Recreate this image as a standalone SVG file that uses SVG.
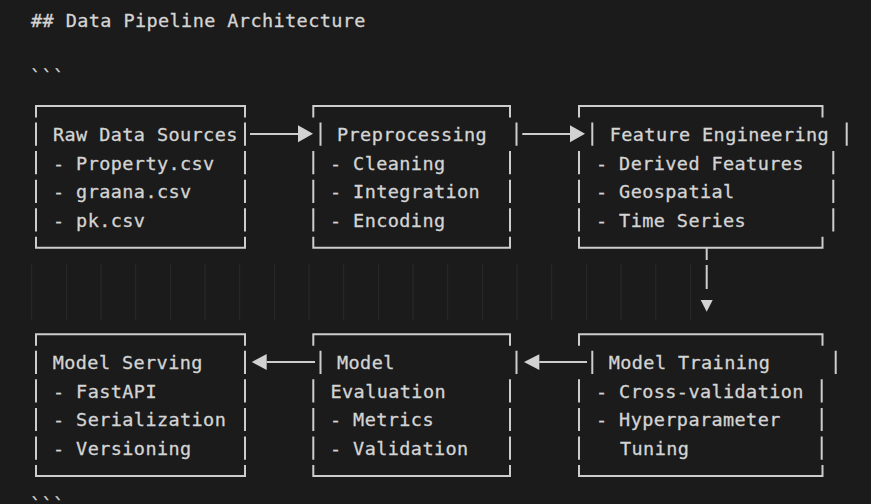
<svg xmlns="http://www.w3.org/2000/svg" width="871" height="504" viewBox="0 0 871 504">
<style>
.t{font-family:"DejaVu Sans Mono","Liberation Mono",monospace;font-size:18.5px;letter-spacing:0.41px;fill:#d4d4d4;stroke:#d4d4d4;stroke-width:0.3px;white-space:pre}
.b{fill:none;stroke:#cdcdcd;stroke-width:2;stroke-linecap:butt}
.c{fill:none;stroke:#cdcdcd;stroke-width:2}
.h{fill:#d2d2d2;stroke:none}
.g{fill:none;stroke:#2a2a2a;stroke-width:1}
</style>
<rect width="871" height="504" fill="#1b1b1b"/>
<text class="t" x="31" y="26.8">## Data Pipeline Architecture</text>
<text class="t" x="30" y="83">```</text>
<path class="g" d="M31.7,263.3V320M66.4,263.3V320M101,263.3V320M135.7,263.3V320M170.4,263.3V320M205,263.3V320M239.7,263.3V320M274.4,263.3V320M309.1,263.3V320M343.7,263.3V320M378.4,263.3V320M413.1,263.3V320M447.7,263.3V320M482.4,263.3V320M517.1,263.3V320M551.7,263.3V320M586.4,263.3V320M621.1,263.3V320M655.8,263.3V320M690.4,263.3V320"/>
<g id="raw-data-sources">
<path class="b" d="M36,117.5V106H245V117.5M36,236.7V247.7H245V236.7M36,122.5V145.7M245,122.5V145.7M36,151.1V174.3M245,151.1V174.3M36,179.7V202.9M245,179.7V202.9M36,208.3V231.5M245,208.3V231.5"/>
<text class="t" x="53" y="141">Raw Data Sources</text>
<text class="t" x="53" y="169.6">- Property.csv</text>
<text class="t" x="53" y="198.2">- graana.csv</text>
<text class="t" x="53" y="226.8">- pk.csv</text>
</g>
<g id="preprocessing">
<path class="b" d="M313.3,117.5V106H510V117.5M313.3,236.7V247.7H510V236.7M320.5,122.5V145.7M516.5,122.5V145.7M313.3,151.1V174.3M510,151.1V174.3M313.3,179.7V202.9M510,179.7V202.9M313.3,208.3V231.5M510,208.3V231.5"/>
<text class="t" x="337" y="141">Preprocessing</text>
<text class="t" x="330" y="169.6">- Cleaning</text>
<text class="t" x="330" y="198.2">- Integration</text>
<text class="t" x="330" y="226.8">- Encoding</text>
</g>
<g id="feature-engineering">
<path class="b" d="M579,117.5V106H822.5V117.5M579,236.7V247.7H822.5V236.7M592.3,122.5V145.7M846.7,122.5V145.7M579,151.1V174.3M833.3,151.1V174.3M579,179.7V202.9M833.3,179.7V202.9M579,208.3V231.5M833.3,208.3V231.5"/>
<text class="t" x="609.7" y="141">Feature Engineering</text>
<text class="t" x="596" y="169.6">- Derived Features</text>
<text class="t" x="596" y="198.2">- Geospatial</text>
<text class="t" x="596" y="226.8">- Time Series</text>
</g>
<g id="model-training">
<path class="b" d="M579,345.7V334.2H822.5V345.7M579,464.9V475.9H822.5V464.9M592.3,350.7V373.9M835.7,350.7V373.9M579,379.3V402.5M821.7,379.3V402.5M579,407.9V431.1M821.7,407.9V431.1M579,436.5V459.7M821.7,436.5V459.7"/>
<text class="t" x="608.7" y="369.2">Model Training</text>
<text class="t" x="596" y="397.8">- Cross-validation</text>
<text class="t" x="596" y="426.4">- Hyperparameter</text>
<text class="t" x="620" y="455">Tuning</text>
</g>
<g id="model-evaluation">
<path class="b" d="M313.3,345.7V334.2H510V345.7M313.3,464.9V475.9H510V464.9M320.5,350.7V373.9M516.5,350.7V373.9M313.3,379.3V402.5M510,379.3V402.5M313.3,407.9V431.1M510,407.9V431.1M313.3,436.5V459.7M510,436.5V459.7"/>
<text class="t" x="337" y="369.2">Model</text>
<text class="t" x="330.5" y="397.8">Evaluation</text>
<text class="t" x="330" y="426.4">- Metrics</text>
<text class="t" x="330" y="455">- Validation</text>
</g>
<g id="model-serving">
<path class="b" d="M36,345.7V334.2H245V345.7M36,464.9V475.9H245V464.9M36,350.7V373.9M245,350.7V373.9M36,379.3V402.5M245,379.3V402.5M36,407.9V431.1M245,407.9V431.1M36,436.5V459.7M245,436.5V459.7"/>
<text class="t" x="52.7" y="369.2">Model Serving</text>
<text class="t" x="53" y="397.8">- FastAPI</text>
<text class="t" x="53" y="426.4">- Serialization</text>
<text class="t" x="53" y="455">- Versioning</text>
</g>
<g id="connectors">
<path class="c" d="M250,134H298"/>
<polygon class="h" points="298,125.3 313,133.8 298,142.2"/>
<path class="c" d="M522.3,134H570"/>
<polygon class="h" points="570,125.3 585,133.8 570,142.2"/>
<path class="c" d="M706.7,247.7V260M706.7,265V289"/>
<polygon class="h" points="700.7,300 712.7,300 706.7,311.7"/>
<path class="c" d="M539.3,362H587"/>
<polygon class="h" points="539.3,354.2 524,362 539.3,370"/>
<path class="c" d="M266.7,362H315"/>
<polygon class="h" points="266.7,354 251.7,362 266.7,370"/>
</g>
<text class="t" x="30" y="511">```</text>
</svg>
